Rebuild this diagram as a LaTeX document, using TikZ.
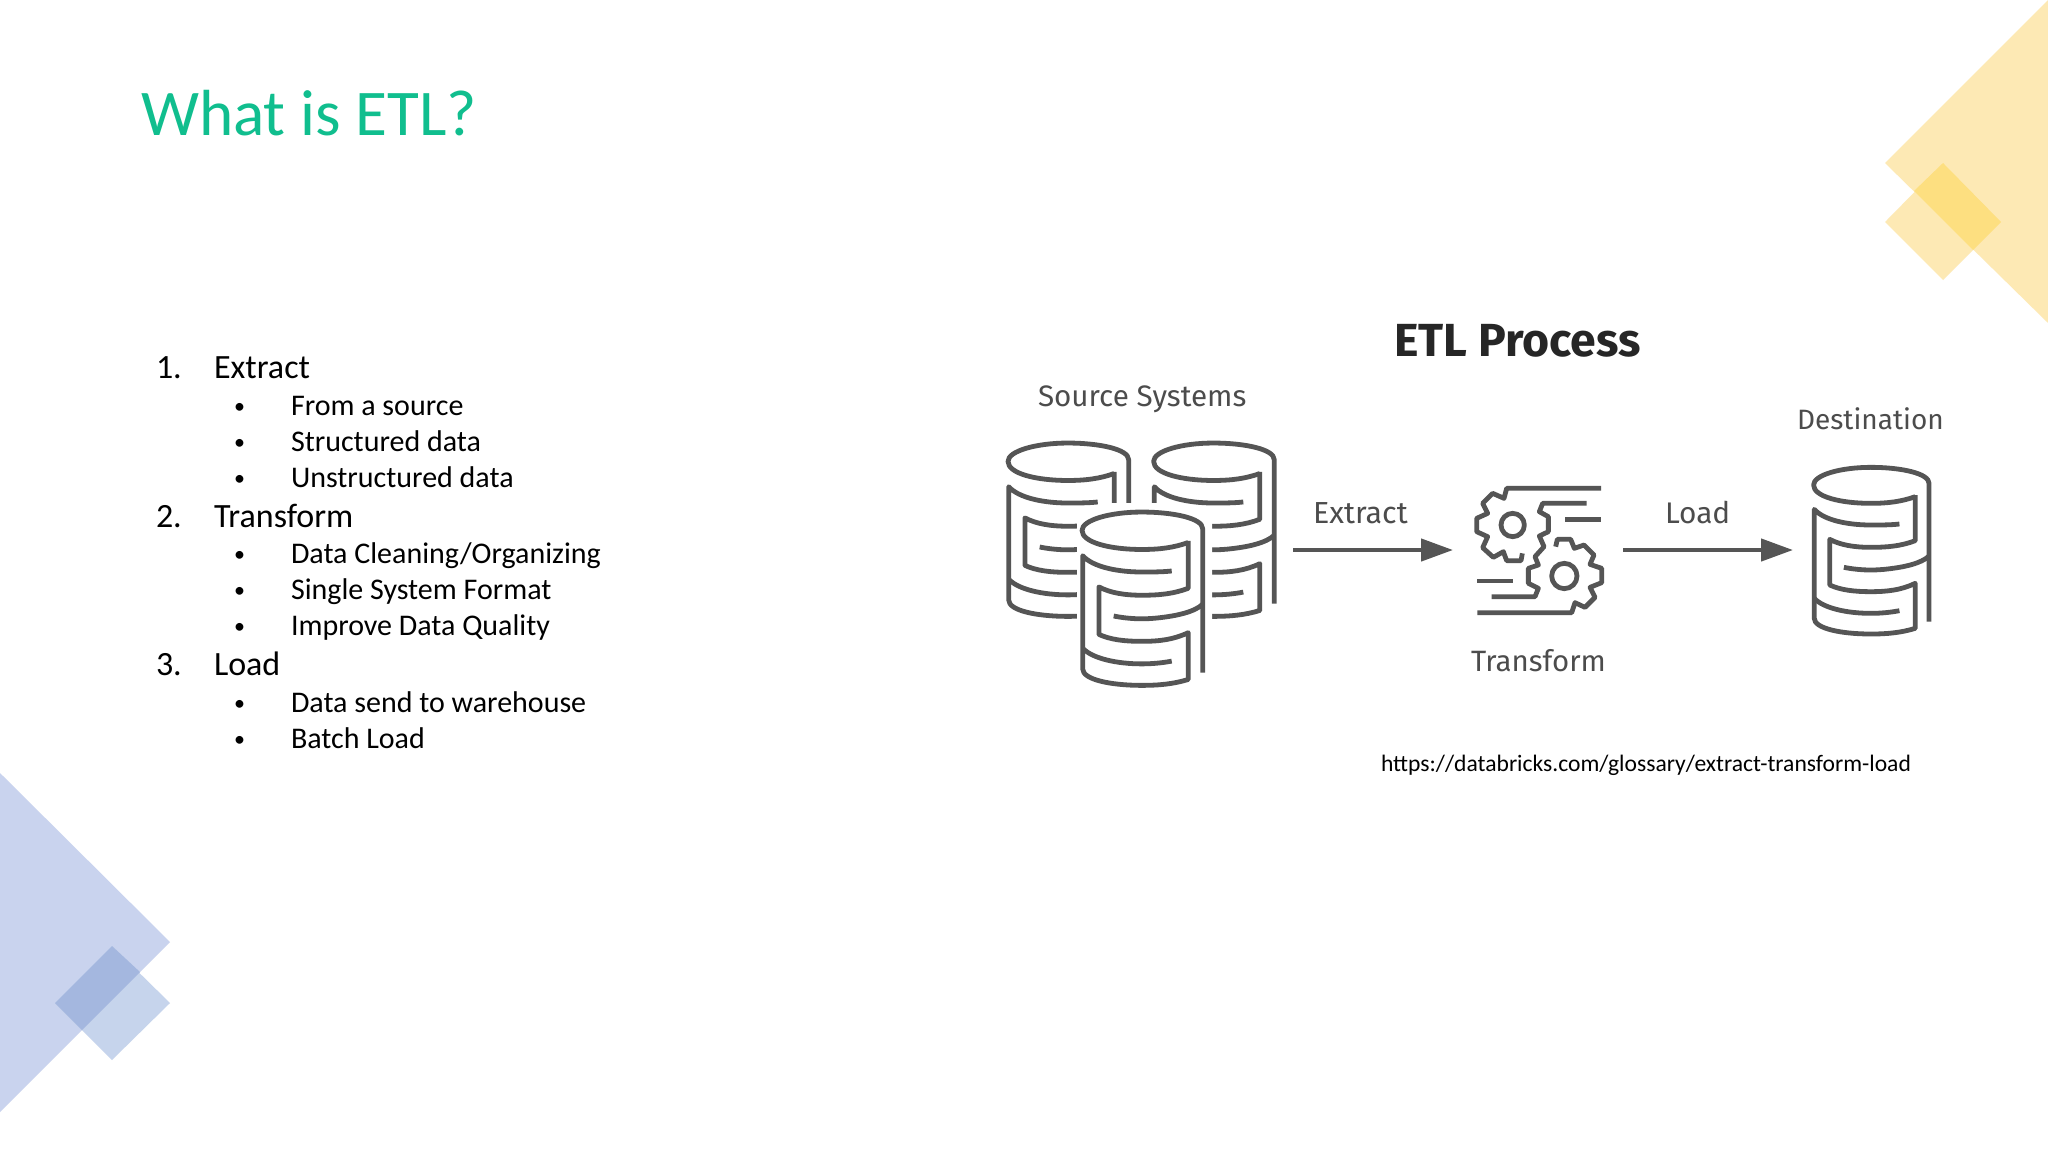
\documentclass[tikz,border=0pt]{standalone}
\usepackage{fontspec}
\setmainfont{Carlito}
\newfontfamily\dinfont{Fira Sans}
\usetikzlibrary{arrows.meta}
\definecolor{titlegreen}{HTML}{10BE8E}
\definecolor{iconc}{HTML}{555555}
\definecolor{yelbig}{HTML}{FDE9B4}
\definecolor{yelsm}{HTML}{FDE9B4}
\definecolor{yelov}{HTML}{FDDF80}
\definecolor{blubig}{HTML}{C9D3EE}
\definecolor{blusm}{HTML}{C6D4EC}
\definecolor{bluov}{HTML}{A4B7DF}
\tikzset{
  txt/.style={anchor=base west,inner sep=0pt,outer sep=0pt,text=black},
  head/.style={txt,font=\fontsize{17}{17}\selectfont},
  sub/.style={txt,font=\fontsize{15}{15}\selectfont},
  bul/.style={txt,font=\fontsize{11}{11}\selectfont},
  dl/.style={txt,text=iconc!90!black,font=\dinfont\fontsize{14.5}{14.5}\selectfont},
  icon/.style={draw=iconc,line width=2.4pt,line join=round,line cap=butt},
  flow/.style={draw=iconc,line width=2.2pt,-{Triangle[length=16pt,width=11pt]}}
}
\newcommand{\etlcyl}[4]{%
\begin{scope}[shift={(#1,#2)},xscale={#3/3},yscale={#4/3}]
\draw[icon] (372,140) .. controls (330,155) and (290,160) .. (240,160)
  .. controls (150,160) and (70,140) .. (70,105)
  .. controls (70,75) and (150,52) .. (240,52)
  .. controls (330,52) and (413,70) .. (413,100) -- (413,515);
\draw[icon] (372,135) -- (372,272) .. controls (330,288) and (290,292) .. (240,292)
  .. controls (190,292) and (150,285) .. (118,268) -- (118,405)
  .. controls (150,420) and (190,425) .. (240,425)
  .. controls (290,425) and (330,420) .. (372,400) -- (372,535)
  .. controls (330,548) and (290,552) .. (240,552)
  .. controls (150,552) and (72,535) .. (72,505) -- (72,178)
  .. controls (100,210) and (170,225) .. (240,225)
  .. controls (270,225) and (300,225) .. (325,222);
\draw[icon] (160,352) .. controls (200,360) and (240,362) .. (280,358)
  .. controls (340,352) and (390,340) .. (413,318);
\draw[icon] (72,445) .. controls (100,475) and (170,490) .. (240,490)
  .. controls (270,490) and (300,487) .. (325,482);
\end{scope}}
\begin{document}
\begin{tikzpicture}[x=0.5pt,y=-0.5pt]
\useasboundingbox (0,0) rectangle (2048,1152);
\fill[white] (0,0) rectangle (2048,1152);
% decorations
\fill[yelbig] (2048,0) -- (1885,163) -- (2048,323) -- cycle;
\fill[yelsm] (1885,222) -- (1943,163) -- (2001,222) -- (1943,280) -- cycle;
\fill[yelov] (1943,163) -- (2001,222) -- (1973,250) -- (1914,191) -- cycle;
\fill[blubig] (0,773) -- (170,942) -- (0,1112) -- cycle;
\fill[blusm] (55,1003) -- (112,946) -- (170,1003) -- (112,1060) -- cycle;
\fill[bluov] (55,1003) -- (112,946) -- (140,972) -- (82,1030) -- cycle;
% title
\node[txt,text=titlegreen,font=\fontsize{32.6}{32}\selectfont] (title) at (141,135) {What is ETL?};
% list
\node[head] (n1) at (156,378) {1.};
\node[head] (i1) at (214,378) {Extract};
\node[bul] (b11) at (234,413) {•};
\node[sub] (t11) at (291,415) {From a source};
\node[bul] (b12) at (234,449) {•};
\node[sub] (t12) at (291,451) {Structured data};
\node[bul] (b13) at (234,485) {•};
\node[sub] (t13) at (291,487) {Unstructured data};
\node[head] (n2) at (156,527) {2.};
\node[head] (i2) at (214,527) {Transform};
\node[bul] (b21) at (234,561) {•};
\node[sub] (t21) at (291,563) {Data Cleaning/Organizing};
\node[bul] (b22) at (234,597) {•};
\node[sub] (t22) at (291,599) {Single System Format};
\node[bul] (b23) at (234,633) {•};
\node[sub] (t23) at (291,635) {Improve Data Quality};
\node[head] (n3) at (156,675) {3.};
\node[head] (i3) at (214,675) {Load};
\node[bul] (b31) at (234,710) {•};
\node[sub] (t31) at (291,712) {Data send to warehouse};
\node[bul] (b32) at (234,746) {•};
\node[sub] (t32) at (291,748) {Batch Load};
% diagram labels
\node[txt,text=black!85,font=\dinfont\bfseries\fontsize{23.2}{23}\selectfont] (etl) at (1394,356) {ETL Process};
\node[dl,font=\dinfont\fontsize{14.8}{15}\selectfont] (src) at (1038,406) {Source Systems};
\node[dl,font=\dinfont\fontsize{14}{14}\selectfont] (dst) at (1797,429) {Destination};
\node[dl,font=\dinfont\fontsize{15.2}{15}\selectfont] (lex) at (1313,523) {Extract};
\node[dl,font=\dinfont\fontsize{14.9}{15}\selectfont] (llo) at (1665,523) {Load};
\node[dl,font=\dinfont\fontsize{14.7}{15}\selectfont] (ltr) at (1471,671) {Transform};
\node[txt,font=\fontsize{11.8}{12}\selectfont] (url) at (1381,771) {https://databricks.com/glossary/extract-transform-load};
% cylinders
\etlcyl{983.4}{425}{1.055}{1.04}
\etlcyl{1129}{425}{1.055}{1.04}
\fill[white] (1077,507) -- (1100,507) -- (1100,503) -- (1160,503) -- (1160,507) -- (1212,507) -- (1212,700) -- (1077,700) -- cycle;
\etlcyl{1057.4}{494}{1.055}{1.04}
\etlcyl{1790}{450}{1.01}{1}
% gears
\begin{scope}[shift={(1440,450)},scale={1/3}]
\draw[icon] (483,115) -- (200,115) -- (192,145) -- (158,130) -- (128,160) -- (143,190) -- (110,205) -- (110,245) -- (143,260) -- (128,293) -- (160,322) -- (190,305) -- (200,332) -- (243,332) -- (247,310);
\draw[icon] (440,160) -- (308,160) -- (298,185) -- (325,200) -- (325,245) -- (298,258) -- (312,290) -- (285,320) -- (295,345) -- (265,355) -- (265,400) -- (295,415) -- (285,440) -- (155,440);
\draw[icon] (347,290) -- (352,268) -- (392,268) -- (403,295) -- (432,285) -- (462,315) -- (450,343) -- (485,355) -- (485,398) -- (450,412) -- (465,442) -- (435,472) -- (405,458) -- (395,488) -- (112,488);
\draw[icon] (375,208) -- (483,208);
\draw[icon] (112,393) -- (218,393);
\draw[icon] (218,225) circle (35);
\draw[icon] (373,378) circle (38);
\end{scope}
% connectors
\coordinate (ea) at (1293,550);
\coordinate (eb) at (1453,550);
\coordinate (la) at (1623,550);
\coordinate (lb) at (1793,550);
\draw[flow] (ea) -- (eb);
\draw[flow] (la) -- (lb);
\end{tikzpicture}
\end{document}
